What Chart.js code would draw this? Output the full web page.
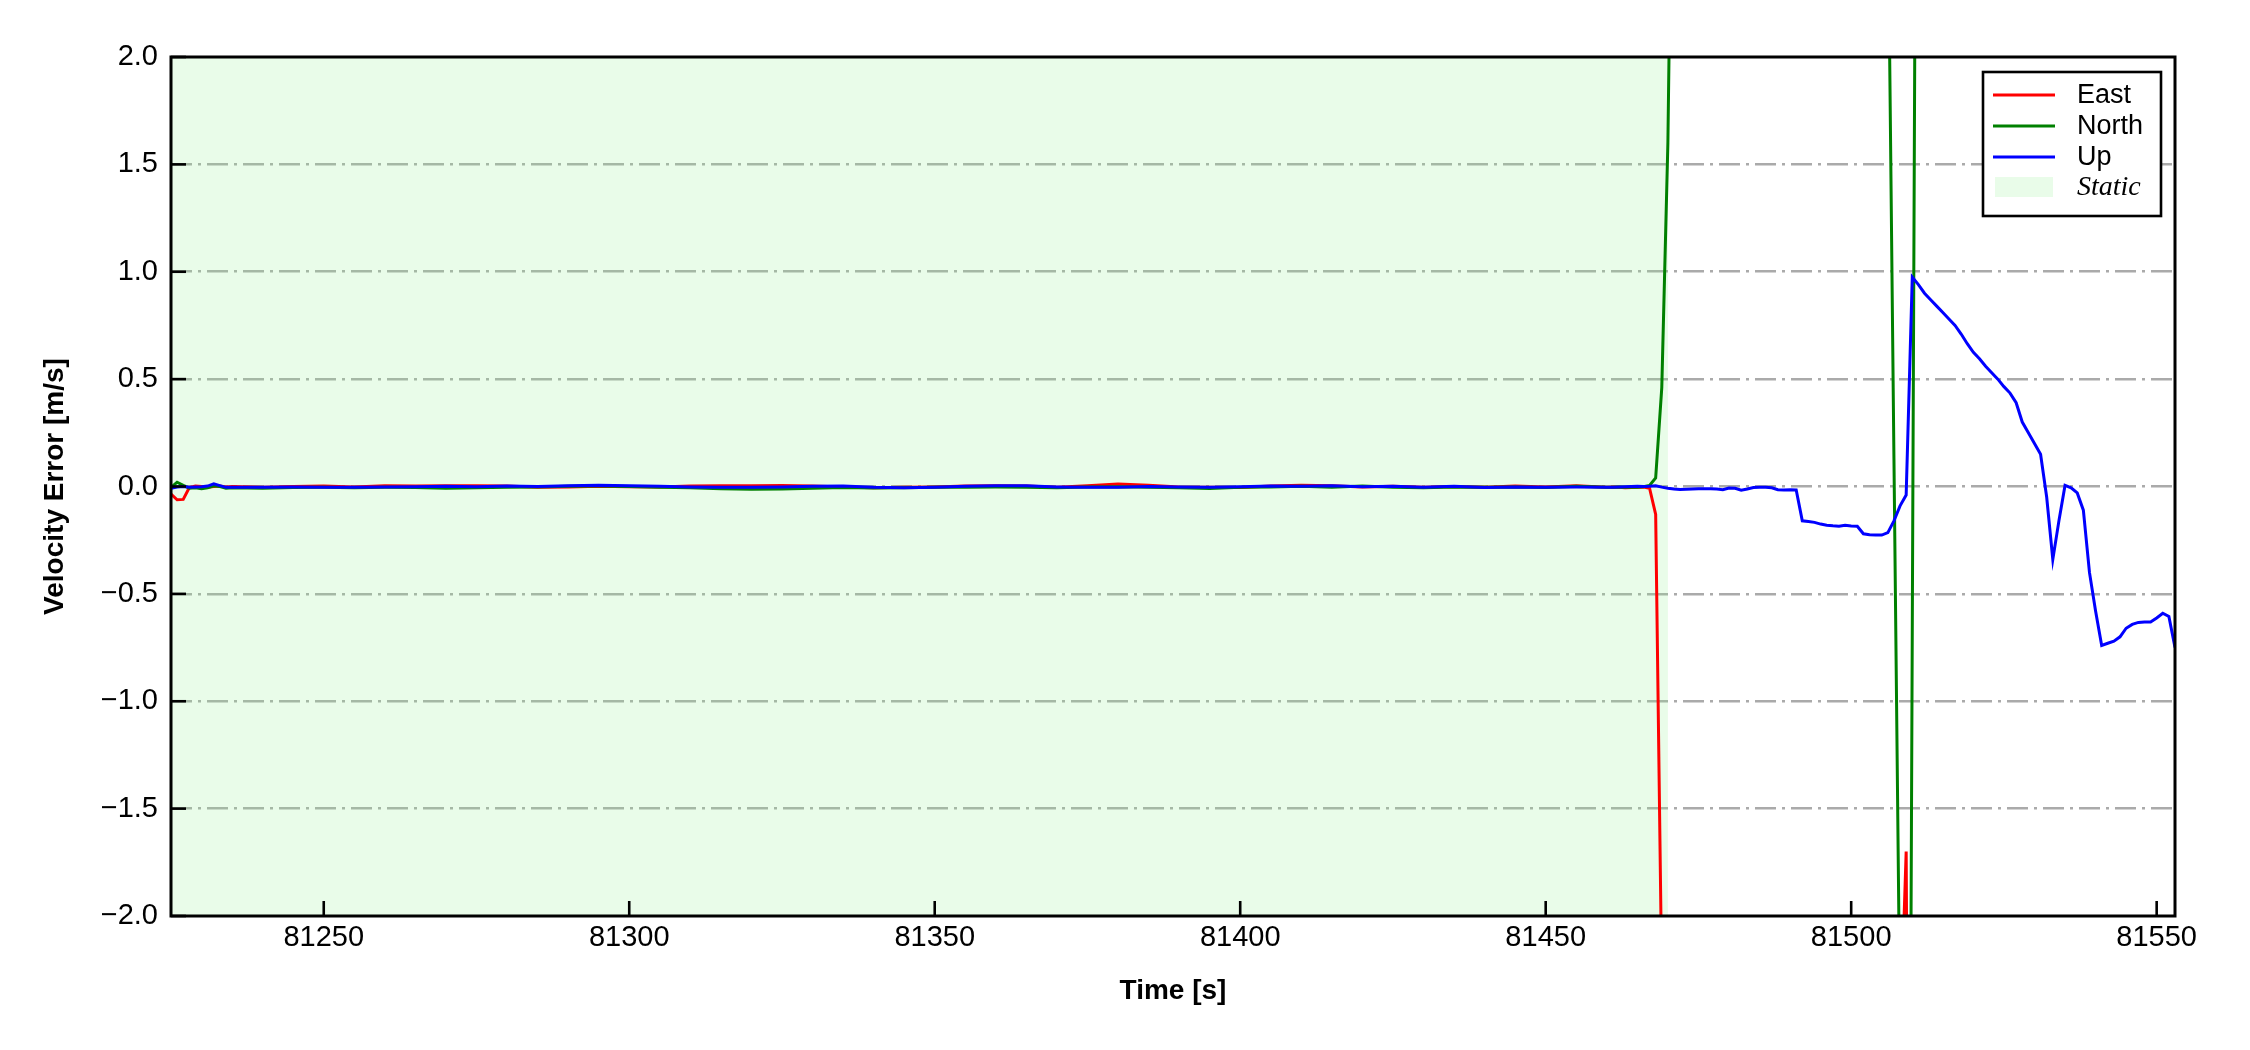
<!DOCTYPE html>
<html>
<head>
<meta charset="utf-8">
<script src="https://cdn.jsdelivr.net/npm/chart.js@4.4.1/dist/chart.umd.min.js"></script>
<style>
  body { margin: 0; background: #fff; }
  canvas { display: block; background: #fff; }
</style>
</head>
<body>
<canvas id="velchart" width="2250" height="1050"></canvas>
<script>
// time stamps [s] (1 s near the ends, 5 s through the quiet static part)
const time = [
  81225, 81226, 81227, 81228, 81229, 81230, 81231, 81232, 81233, 81234, 81235,
  81240, 81245, 81250, 81255, 81260, 81265, 81270, 81275, 81280, 81285,
  81290, 81295, 81300, 81305, 81310, 81315, 81320, 81325, 81330, 81335,
  81340, 81345, 81350, 81355, 81360, 81365, 81370, 81375, 81380, 81385,
  81390, 81395, 81400, 81405, 81410, 81415, 81420, 81425, 81430, 81435,
  81440, 81445, 81450, 81455, 81460,
  81461, 81462, 81463, 81464, 81465, 81466, 81467, 81468, 81469, 81470,
  81471, 81472, 81473, 81474, 81475, 81476, 81477, 81478, 81479, 81480,
  81481, 81482, 81483, 81484, 81485, 81486, 81487, 81488, 81489, 81490,
  81491, 81492, 81493, 81494, 81495, 81496, 81497, 81498, 81499, 81500,
  81501, 81502, 81503, 81504, 81505, 81506, 81507, 81508, 81509, 81510,
  81511, 81512, 81513, 81514, 81515, 81516, 81517, 81518, 81519, 81520,
  81521, 81522, 81523, 81524, 81525, 81526, 81527, 81528, 81529, 81530,
  81531, 81532, 81533, 81534, 81535, 81536, 81537, 81538, 81539, 81540,
  81541, 81542, 81543, 81544, 81545, 81546, 81547, 81548, 81549, 81550,
  81551, 81552, 81553
]

// velocity errors [m/s]; values outside +-2 run off the plot
const east = [
  -0.035, -0.062, -0.060, -0.005, 0.002, 0.000, -0.003, 0.000, 0.002, -0.002, 0.000,
  -0.003, 0.000, 0.002, -0.002, 0.003, 0.002, 0.004, 0.003, 0.002, -0.003,
  -0.002, 0.001, -0.001, -0.002, 0.002, 0.004, 0.003, 0.005, 0.002, -0.002,
  -0.006, -0.004, -0.002, 0.002, 0.003, 0.002, -0.004, 0.004, 0.012, 0.006,
  -0.002, -0.004, -0.005, 0.002, 0.006, 0.004, -0.002, 0.001, -0.004, 0.000,
  -0.003, 0.002, -0.002, 0.003, -0.004,
  -0.002, -0.004, -0.006, -0.005, -0.004, -0.003, -0.008, -0.13, -2.3, -4.5,
  -5.0, -5.0, -5.0, -5.0, -5.0, -5.0, -5.0, -5.0, -5.0, -5.0,
  -5.0, -5.0, -5.0, -5.0, -5.0, -5.0, -5.0, -5.0, -5.0, -5.0,
  -5.0, -5.0, -5.0, -5.0, -5.0, -5.0, -5.0, -5.0, -5.0, -5.0,
  -5.0, -5.0, -5.0, -5.0, -5.0, -5.0, -4.5, -2.6, -1.7, -7.0,
  -7.0, -7.0, -7.0, -7.0, -7.0, -7.0, -7.0, -7.0, -7.0, -7.0,
  -7.0, -7.0, -7.0, -7.0, -7.0, -7.0, -7.0, -7.0, -7.0, -7.0,
  -7.0, -7.0, -7.0, -7.0, -7.0, -7.0, -7.0, -7.0, -7.0, -7.0,
  -7.0, -7.0, -7.0, -7.0, -7.0, -7.0, -7.0, -7.0, -7.0, -7.0,
  -7.0, -7.0, -7.0
]

const north = [
  -0.005, 0.020, 0.005, -0.008, -0.006, -0.010, -0.006, 0.003, 0.000, -0.008, -0.006,
  -0.008, -0.005, -0.004, -0.006, -0.004, -0.005, -0.008, -0.006, -0.003, -0.002,
  0.001, 0.002, 0.000, -0.003, -0.006, -0.010, -0.013, -0.012, -0.008, -0.005,
  -0.007, -0.006, -0.004, -0.003, -0.002, -0.004, -0.006, -0.002, -0.001, -0.004,
  -0.006, -0.009, -0.004, -0.002, 0.001, -0.004, 0.002, -0.003, -0.006, -0.002,
  -0.004, -0.002, -0.005, 0.001, -0.003,
  -0.004, -0.002, -0.003, -0.004, -0.003, -0.001, 0.005, 0.04, 0.46, 1.6,
  3.8, 5.0, 5.0, 5.0, 5.0, 5.0, 5.0, 5.0, 5.0, 5.0,
  5.0, 5.0, 5.0, 5.0, 5.0, 5.0, 5.0, 5.0, 5.0, 5.0,
  5.0, 5.0, 5.0, 5.0, 5.0, 5.0, 5.0, 5.0, 5.0, 5.0,
  5.0, 5.0, 5.0, 5.0, 4.5, 2.8, 0.13, -2.53, -7.3, -0.67,
  6.0, 6.0, 6.0, 6.0, 6.0, 6.0, 6.0, 6.0, 6.0, 6.0,
  6.0, 6.0, 6.0, 6.0, 6.0, 6.0, 6.0, 6.0, 6.0, 6.0,
  6.0, 6.0, 6.0, 6.0, 6.0, 6.0, 6.0, 6.0, 6.0, 6.0,
  6.0, 6.0, 6.0, 6.0, 6.0, 6.0, 6.0, 6.0, 6.0, 6.0,
  6.0, 6.0, 6.0
]

const up = [
  -0.008, -0.002, 0.000, -0.003, -0.002, -0.001, 0.002, 0.012, 0.004, -0.004, -0.003,
  -0.004, -0.002, -0.003, -0.004, -0.002, -0.001, 0.001, -0.001, 0.002, 0.000,
  0.004, 0.006, 0.003, 0.001, -0.002, -0.003, -0.004, -0.002, 0.001, 0.002,
  -0.004, -0.006, -0.003, 0.001, 0.004, 0.003, -0.002, -0.004, -0.003, 0.000,
  -0.002, -0.003, -0.001, 0.002, 0.001, 0.003, -0.001, 0.001, -0.003, 0.001,
  -0.005, -0.002, -0.004, -0.002, -0.003,
  -0.003, -0.002, -0.001, 0.000, 0.001, 0.000, 0.001, 0.003, -0.003, -0.008,
  -0.012, -0.014, -0.013, -0.012, -0.011, -0.010, -0.011, -0.012, -0.015, -0.007,
  -0.008, -0.017, -0.012, -0.005, -0.004, -0.003, -0.006, -0.015, -0.016, -0.015,
  -0.016, -0.160, -0.163, -0.167, -0.175, -0.180, -0.183, -0.185, -0.181, -0.184,
  -0.185, -0.220, -0.225, -0.226, -0.226, -0.215, -0.160, -0.090, -0.040, 0.975,
  0.940, 0.900, 0.870, 0.840, 0.810, 0.780, 0.750, 0.710, 0.665, 0.625,
  0.595, 0.560, 0.530, 0.500, 0.465, 0.435, 0.390, 0.300, 0.250, 0.200,
  0.150, -0.050, -0.340, -0.160, 0.005, -0.006, -0.030, -0.110, -0.400, -0.580,
  -0.740, -0.730, -0.720, -0.700, -0.660, -0.642, -0.633, -0.631, -0.631, -0.612,
  -0.590, -0.605, -0.750
]

const staticSpan = [81225, 81470]   // static period [s]
const seriesNames = ['East', 'North', 'Up']
const seriesColors = ['#ff0000', '#008000', '#0000ff']
const staticColor = 'rgba(144, 238, 144, 0.2)'

const sansFont = "'Liberation Sans', Arial, sans-serif"
const serifFont = "'Liberation Serif', 'Times New Roman', serif"

const seriesValues = [east, north, up]
const lineDatasets = seriesValues.map((vals, k) => ({
  label: seriesNames[k],
  data: time.map((t, i) => ({ x: t, y: vals[i] })),
  borderColor: seriesColors[k],
  borderWidth: 3,
  pointRadius: 0,
  fill: false,
  clip: 0,
  order: 3 - k
}))

const staticDataset = {
  label: 'Static',
  data: [{ x: staticSpan[0], y: 2 }, { x: staticSpan[1], y: 2 }],
  borderWidth: 0,
  pointRadius: 0,
  backgroundColor: staticColor,
  fill: { value: -2 },
  order: 10
}

// frame, inward tick marks and boxed legend in the top right corner
const framePlugin = {
  id: 'frame',
  afterDraw(chart) {
    const { ctx, chartArea, scales } = chart
    ctx.save()
    ctx.strokeStyle = '#000'
    ctx.lineWidth = 2.6
    scales.y.ticks.forEach(tk => {
      const py = scales.y.getPixelForValue(tk.value)
      ctx.beginPath()
      ctx.moveTo(chartArea.left, py)
      ctx.lineTo(chartArea.left + 15, py)
      ctx.stroke()
    })
    scales.x.ticks.forEach(tk => {
      const px = scales.x.getPixelForValue(tk.value)
      ctx.beginPath()
      ctx.moveTo(px, chartArea.bottom)
      ctx.lineTo(px, chartArea.bottom - 15)
      ctx.stroke()
    })
    ctx.lineWidth = 3
    ctx.strokeRect(chartArea.left, chartArea.top, chartArea.right - chartArea.left, chartArea.bottom - chartArea.top)

    // legend
    const w = 178, h = 144
    const x0 = chartArea.right - 14 - w
    const y0 = chartArea.top + 15
    ctx.fillStyle = '#fff'
    ctx.fillRect(x0, y0, w, h)
    ctx.lineWidth = 2.6
    ctx.strokeStyle = '#000'
    ctx.strokeRect(x0, y0, w, h)
    ctx.textBaseline = 'middle'
    ctx.textAlign = 'left'
    seriesNames.forEach((name, k) => {
      const ly = y0 + 23 + k * 31
      ctx.strokeStyle = seriesColors[k]
      ctx.lineWidth = 3
      ctx.beginPath()
      ctx.moveTo(x0 + 10, ly)
      ctx.lineTo(x0 + 72, ly)
      ctx.stroke()
      ctx.fillStyle = '#000'
      ctx.font = '27px ' + sansFont
      ctx.fillText(name, x0 + 94, ly + 1)
    })
    ctx.fillStyle = staticColor
    ctx.fillRect(x0 + 12, y0 + 105, 58, 20)
    ctx.fillStyle = '#000'
    ctx.font = 'italic 28px ' + serifFont
    ctx.fillText('Static', x0 + 94, y0 + 116)
    ctx.restore()
  }
}

new Chart(document.getElementById('velchart'), {
  type: 'line',
  data: { datasets: [...lineDatasets, staticDataset] },
  options: {
    responsive: false,
    animation: false,
    devicePixelRatio: 1,
    events: [],
    layout: { padding: { top: 57, right: 75, left: 0, bottom: 0 } },
    elements: { line: { tension: 0 } },
    plugins: {
      legend: { display: false },
      tooltip: { enabled: false }
    },
    scales: {
      x: {
        type: 'linear',
        min: 81225,
        max: 81553,
        grid: { display: false, drawTicks: false },
        border: { display: false },
        ticks: {
          stepSize: 50,
          includeBounds: false,
          maxRotation: 0,
          padding: 5,
          color: '#000',
          font: { family: sansFont, size: 29 },
          callback: v => String(v)
        },
        title: {
          display: true,
          text: 'Time [s]',
          color: '#000',
          font: { family: sansFont, size: 28, weight: 'bold' },
          padding: { top: 0, bottom: 42 }
        },
        afterFit: s => { s.height = 134 }
      },
      y: {
        min: -2,
        max: 2,
        grid: {
          color: c => (c.tick && Math.abs(c.tick.value) > 1.9 ? 'rgba(0,0,0,0)' : '#aaaaaa'),
          lineWidth: 2.6,
          drawTicks: false
        },
        border: { display: false, dash: [21, 6, 3, 6] },
        ticks: {
          stepSize: 0.5,
          padding: 13,
          color: '#000',
          font: { family: sansFont, size: 29 },
          callback: v => v.toFixed(1).replace('-', '\u2212')
        },
        title: {
          display: true,
          text: 'Velocity Error [m/s]',
          color: '#000',
          font: { family: sansFont, size: 28, weight: 'bold' },
          padding: { top: 38, bottom: 0 }
        },
        afterFit: s => { s.width = 171 }
      }
    }
  },
  plugins: [framePlugin]
})
</script>
</body>
</html>
